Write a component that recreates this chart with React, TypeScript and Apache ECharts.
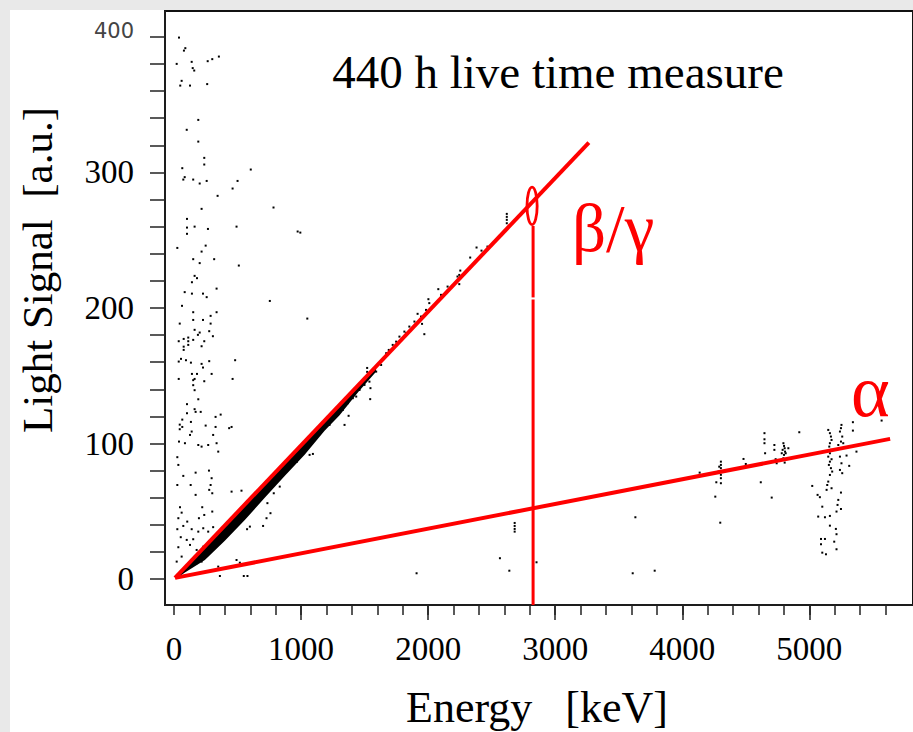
import React, { useEffect, useRef } from "react";
import * as echarts from "echarts";

// ---- axis ticks / labels ----
const xTickLabels = [0, 1000, 2000, 3000, 4000, 5000];
const xMajorTicks = [1000, 2000, 3000, 4000, 5000];
const xMinorTicks = [0, 200, 400, 600, 800, 1000, 1200, 1400, 1600, 1800, 2000, 2200, 2400, 2600, 2800, 3000, 3200, 3400, 3600, 3800, 4000, 4200, 4400, 4600, 4800, 5000, 5200, 5400, 5600];
const yTickLabels = [0, 100, 200, 300, 400];
const yTicks = [0, 20, 40, 60, 80, 100, 120, 140, 160, 180, 200, 220, 240, 260, 280, 300, 320, 340, 360, 380, 400];

// ---- data (Energy keV, Light a.u.) ----
const betaLine = [[8, 1], [3265, 322]];
const alphaLine = [[8, 1], [5636, 103.5]];
const cutLineLow = [[2826, -19], [2826, 206.3]];
const cutLineHigh = [[2826, 207.8], [2826, 260.5]];
const cutMarker = [[2818, 275.3]];
const cutMarkerHalfSize = [[40, 13.8]]; // half width (keV), half height (a.u.)

// dense beta/gamma band outline
const bandOutline = [
  [8, 1.0], [1590, 156.5], [1590, 153.0], [1450, 138.0], [1303, 121.0], [1185, 109.5], [1028, 91.7], [871, 76.2],
  [714, 60.0], [557, 43.6], [400, 28.3], [243, 14.2], [86, 5.0], [24, 1.0],
];

// sparse events at low energy, high light
const sparseHigh = [
  [39, 399.4], [89, 391.6], [78, 389.8], [21, 380.0], [139, 381.5], [147, 376.9], [159, 375.1], [265, 382.0], [301, 383.5], [353, 385.4],
  [60, 367.5], [49, 364.0], [126, 364.0], [261, 365.1], [191, 338.7], [100, 331.4], [191, 322.7], [238, 310.7], [238, 305.8], [65, 303.1],
  [604, 302.1], [84, 296.5], [73, 294.7], [151, 294.7], [257, 293.7], [202, 291.8], [500, 293.7], [461, 288.1], [343, 282.7], [217, 273.1],
  [783, 274.1], [102, 265.7], [102, 259.3], [162, 260.0], [267, 258.3], [492, 260.0], [973, 256.4], [994, 255.6], [102, 254.7], [26, 244.3],
  [249, 246.0], [217, 241.6], [151, 236.0], [316, 236.0], [202, 233.1], [510, 231.3], [162, 223.7], [181, 222.0], [141, 219.0], [335, 214.3],
  [84, 211.7], [141, 210.6], [228, 210.6], [257, 208.0], [754, 205.2], [63, 201.6], [151, 196.9], [335, 196.9], [288, 194.2], [1049, 192.2],
  [151, 191.2], [228, 191.2], [45, 188.5], [288, 188.5], [162, 183.9], [202, 181.9], [277, 182.9], [188, 180.2], [306, 179.2], [112, 178.2],
  [76, 177.2], [37, 175.5], [112, 175.5], [151, 176.5], [238, 175.5], [112, 172.8], [76, 171.5], [217, 171.8], [76, 169.1], [481, 161.5],
  [55, 162.5], [94, 161.5], [37, 160.5], [133, 159.7], [277, 160.8], [217, 158.8], [228, 156.1], [141, 151.4], [181, 151.4], [296, 151.4],
  [37, 147.7], [162, 147.7], [151, 146.8], [461, 147.7], [238, 146.0], [151, 143.1], [162, 139.4], [191, 132.7], [102, 129.1], [162, 125.4],
  [170, 123.4], [210, 123.4], [102, 122.4], [367, 121.4], [327, 119.7], [65, 117.7], [133, 116.0], [45, 114.0], [249, 113.3], [65, 112.3],
  [327, 112.3], [453, 112.3], [434, 111.4], [45, 110.6],
];

// events near the origin
const sparseLow = [
  [39, 101.5], [86, 100.3], [126, 106.4], [139, 108.9], [191, 99.0], [217, 97.8], [269, 99.0], [308, 106.4], [335, 100.3], [348, 94.1],
  [453, 64.6], [531, 65.3], [701, 39.3], [361, 2.4], [549, 2.4], [578, 2.4], [26, 90.0], [34, 84.3], [73, 76.2], [26, 69.5],
  [131, 69.5], [170, 78.6], [275, 80.1], [296, 74.5], [288, 69.5], [277, 65.9], [301, 63.4], [170, 62.2], [47, 53.1], [60, 49.1],
  [222, 53.1], [301, 49.9], [238, 47.4], [34, 45.0], [196, 45.0], [104, 42.5], [26, 36.9], [73, 39.3], [139, 36.9], [191, 35.1],
  [230, 37.6], [269, 35.1], [308, 38.4], [53, 31.0], [100, 29.0], [151, 29.5], [126, 25.3], [34, 23.6], [60, 16.7], [21, 13.0],
  [178, 21.6], [230, 24.0], [283, 26.5], [335, 29.0], [374, 32.7], [418, 32.7], [492, 14.2], [518, 12.2], [575, 36.9], [597, 38.8],
  [735, 56.1], [785, 63.4], [832, 68.3], [879, 80.6], [968, 86.7], [1067, 91.7], [728, 45.0], [759, 48.7], [348, 9.3], [178, 11.8],
  [217, 13.0], [126, 9.3],
];

// events along the beta/gamma band above 1 MeV
const bandTail = [
  [989, 91.7], [1028, 96.6], [1093, 92.4], [1073, 100.3], [1159, 108.9], [1185, 111.4], [1224, 113.8], [1250, 117.5], [1290, 121.2], [1329, 124.9],
  [1368, 129.8], [1407, 133.5], [1434, 134.7], [1460, 139.6], [1499, 143.3], [1520, 155.8], [1520, 152.9], [1520, 149.9], [1520, 147.0], [1538, 145.7],
  [1546, 140.9], [1591, 153.1], [1630, 158.0], [1643, 161.7], [1670, 166.7], [1690, 169.1], [1721, 172.8], [1748, 175.2], [1774, 178.9], [1813, 182.6],
  [1826, 181.4], [1852, 186.3], [1892, 190.0], [1944, 193.7], [1983, 198.6], [1917, 195.7], [1952, 188.3], [1970, 180.7], [1544, 132.8], [1342, 113.8],
  [1374, 120.5], [2002, 206.5], [2009, 203.6], [2080, 213.9], [2101, 209.7], [2153, 215.8], [2245, 217.6], [2231, 223.2], [2245, 224.4], [2253, 227.6],
  [2331, 237.2], [2381, 244.6], [2420, 242.3], [2467, 245.3], [2619, 269.4], [2619, 265.0], [2619, 262.5], [2619, 267.2],
];

// isolated low-light events in the middle
const midEvents = [
  [2681, 41.5], [2681, 39.3], [2681, 37.1], [2681, 35.1], [2565, 15.5], [2639, 6.3], [2853, 12.5], [1909, 4.4], [3610, 4.4], [3783, 6.3], [3631, 45.7],
];

// alpha events
const alphaEvents = [
  [4304, 86.7], [4304, 84.3], [4304, 81.9], [4304, 79.4], [4304, 77.0], [4304, 74.5], [4304, 70.8], [4291, 83.0], [4286, 79.4], [4268, 71.5],
  [4260, 60.9], [4299, 41.7], [4137, 78.6], [4482, 88.7], [4500, 85.0], [4618, 71.5], [4704, 60.2],
  [4796, 100.3], [4801, 98.3], [4806, 96.6], [4790, 95.4], [4809, 94.1], [4801, 91.7], [4796, 89.2], [4814, 92.9], [4783, 92.9], [4806, 86.0],
  [4647, 107.7], [4647, 103.2], [4647, 100.3], [4652, 92.9], [4725, 99.0], [4725, 95.4], [4735, 88.5], [4743, 85.5], [4835, 96.6], [4921, 108.4],
  [5149, 110.1], [5162, 107.7], [5170, 105.2], [5175, 102.7], [5162, 100.3], [5157, 97.8], [5170, 95.4], [5162, 92.9], [5149, 90.4], [5175, 88.5],
  [5162, 86.7], [5154, 84.3], [5170, 81.9], [5180, 79.4], [5162, 76.9], [5149, 72.0], [5141, 69.5], [5136, 65.9], [5175, 67.1], [5065, 62.2],
  [5083, 60.5], [5023, 68.8], [5102, 53.5], [5070, 46.2], [5123, 45.7], [5162, 46.7], [5162, 39.5], [5209, 37.1], [5214, 33.2], [5092, 29.7],
  [5123, 29.7], [5092, 25.8], [5196, 27.7], [5214, 22.1], [5102, 19.6], [5131, 18.4],
  [5253, 113.8], [5249, 111.4], [5241, 108.9], [5259, 105.2], [5249, 101.5], [5228, 99.0], [5267, 100.3], [5241, 90.4], [5253, 85.5], [5241, 80.6],
  [5259, 78.2], [5249, 63.9], [5228, 58.5], [5222, 54.8], [5249, 51.8], [5214, 49.9],
  [5343, 115.8], [5343, 109.6], [5293, 91.2], [5314, 83.6], [5371, 94.1], [5569, 117.0],
];

const RED = "#ff0000";
const SERIF = "'Liberation Serif', 'Times New Roman', serif";

export default function App() {
  const ref = useRef<HTMLDivElement>(null);

  useEffect(() => {
    if (!ref.current) return;
    const chart = echarts.init(ref.current, undefined, { renderer: "svg" });

    const dotSeries = (name: string, data: number[][]) => ({
      name,
      type: "scatter",
      data,
      symbol: "rect",
      symbolSize: 2,
      itemStyle: { color: "#000", opacity: 1 },
      z: 3,
      silent: true,
    });
    const redLine = (name: string, data: number[][], width: number) => ({
      name,
      type: "line",
      data,
      symbol: "none",
      lineStyle: { color: RED, width, opacity: 1 },
      z: 5,
      silent: true,
    });

    const xCommon = { type: "value", min: -71, max: 5816, position: "bottom", offset: 0 };

    chart.setOption({
      animation: false,
      backgroundColor: "#e9e9e9",
      grid: {
        left: 165, top: 11, right: -2, bottom: 127,
        show: true, borderColor: "#111", borderWidth: 2, backgroundColor: "transparent",
      },
      xAxis: [
        {
          ...xCommon,
          axisLine: { show: true, onZero: false, lineStyle: { color: "#222", width: 1.5 } },
          axisTick: { show: true, customValues: xMajorTicks, length: 15, lineStyle: { color: "#222", width: 1.5 } },
          axisLabel: {
            customValues: xTickLabels, fontSize: 33, fontFamily: SERIF, color: "#000", margin: 27,
            formatter: (v: number) => String(v),
          },
          splitLine: { show: false },
        },
        {
          ...xCommon,
          axisLine: { show: false, onZero: false },
          axisTick: { show: true, customValues: xMinorTicks, length: 10, lineStyle: { color: "#222", width: 1.5 } },
          axisLabel: { show: false },
          splitLine: { show: false },
        },
      ],
      yAxis: {
        type: "value", min: -19, max: 419,
        axisLine: { show: true, onZero: false, lineStyle: { color: "#222", width: 1.5 } },
        axisTick: { show: true, customValues: yTicks, length: 15, lineStyle: { color: "#222", width: 1.5 } },
        axisLabel: {
          customValues: yTickLabels, fontSize: 33, fontFamily: SERIF, color: "#000", margin: 31,
          formatter: (v: number) => (v === 400 ? "{s|400}" : String(v)),
          rich: { s: { fontSize: 21, fontFamily: "'DejaVu Sans', sans-serif", color: "#444", padding: [0, 0, 12, 0] } },
        },
        splitLine: { show: false },
      },
      graphic: [
        { type: "rect", shape: { x: 10, y: 10, width: 903, height: 722 }, style: { fill: "#fff" }, z: -100, silent: true },
        {
          type: "text", x: 558, y: 72, z: 100,
          style: { text: "440 h live time measure", fontSize: 47, fontFamily: SERIF, fill: "#000", align: "center", verticalAlign: "middle" },
        },
        {
          type: "text", x: 37.5, y: 270, rotation: Math.PI / 2, z: 100,
          style: { text: "Light Signal  [a.u.]", fontSize: 43, fontFamily: SERIF, fill: "#000", align: "center", verticalAlign: "middle" },
        },
        {
          type: "text", x: 537, y: 707, z: 100,
          style: { text: "Energy   [keV]", fontSize: 44, fontFamily: SERIF, fill: "#000", align: "center", verticalAlign: "middle" },
        },
        {
          type: "text", x: 572, y: 228, z: 100,
          style: { text: "β/γ", fontSize: 67, fontFamily: SERIF, fill: RED, align: "left", verticalAlign: "middle" },
        },
        {
          type: "text", x: 851, y: 391, z: 100,
          style: { text: "α", fontSize: 74, fontFamily: SERIF, fill: RED, align: "left", verticalAlign: "middle" },
        },
      ],
      series: [
        {
          name: "band",
          type: "custom",
          data: bandOutline,
          encode: { x: 0, y: 1 },
          z: 2,
          silent: true,
          renderItem: (params: any, api: any) => {
            if (params.dataIndex !== 0) return null;
            const points = bandOutline.map((p) => api.coord(p));
            return { type: "polygon", shape: { points }, style: { fill: "#000" } };
          },
        },
        dotSeries("sparseHigh", sparseHigh),
        dotSeries("sparseLow", sparseLow),
        dotSeries("bandTail", bandTail),
        dotSeries("midEvents", midEvents),
        dotSeries("alphaEvents", alphaEvents),
        redLine("beta", betaLine, 4),
        redLine("alpha", alphaLine, 4),
        redLine("cutLow", cutLineLow, 3),
        redLine("cutHigh", cutLineHigh, 3),
        {
          name: "marker",
          type: "custom",
          data: cutMarker,
          encode: { x: 0, y: 1 },
          z: 6,
          silent: true,
          renderItem: (params: any, api: any) => {
            const c = api.coord([api.value(0), api.value(1)]);
            const s = api.size(cutMarkerHalfSize[0]);
            return {
              type: "ellipse",
              shape: { cx: c[0], cy: c[1], rx: s[0], ry: s[1] },
              style: { fill: "none", stroke: RED, lineWidth: 2.8 },
            };
          },
        },
      ],
    });

    return () => chart.dispose();
  }, []);

  return <div ref={ref} style={{ position: "fixed", left: 0, top: 0, width: 913, height: 732 }} />;
}
